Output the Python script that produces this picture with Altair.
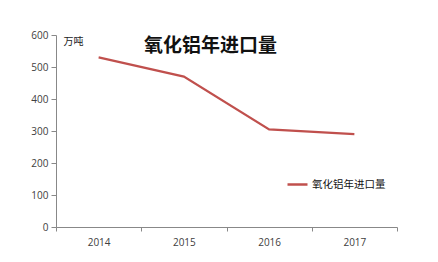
import altair as alt
import pandas as pd

years = ["2014", "2015", "2016", "2017"]
imports = [530, 470, 305, 290]
series_name = "氧化铝年进口量"

df = pd.DataFrame({"year": years, "value": imports, "series": [series_name] * len(years)})

chart = alt.Chart(df).mark_line(strokeWidth=2.2).encode(
    x=alt.X("year:N", sort=years,
            scale=alt.Scale(paddingInner=0, paddingOuter=0),
            axis=alt.Axis(title=None, labelAngle=0, tickBand="extent", tickSize=4,
                          labelPadding=6, domainColor="#888888", tickColor="#888888",
                          labelColor="#404040", labelFontSize=10, labelFont="Open Sans")),
    y=alt.Y("value:Q", scale=alt.Scale(domain=[0, 600], nice=False),
            axis=alt.Axis(values=[0, 100, 200, 300, 400, 500, 600], grid=False, tickSize=5,
                          labelPadding=3, domainColor="#888888", tickColor="#888888",
                          labelColor="#404040", labelFontSize=10, labelFont="Open Sans",
                          title="万吨", titleAngle=0, titleX=7, titleY=6, titleAlign="left",
                          titleBaseline="middle", titleFontWeight="normal", titleFontSize=10,
                          titleColor="#222222", titleFont="Noto Sans CJK SC")),
    color=alt.Color("series:N", scale=alt.Scale(range=["#C0504D"]),
                    legend=alt.Legend(title=None, orient="none", legendX=230, legendY=138,
                                      symbolType="stroke", symbolSize=400, symbolStrokeWidth=2.5,
                                      labelFontSize=10.5, labelColor="#111111",
                                      labelFont="Noto Sans CJK SC", labelOffset=3)),
).properties(
    width=341, height=192,
    title=alt.TitleParams(series_name, anchor="middle", frame="group", dx=-16, dy=39,
                          fontSize=19, fontWeight="bold", font="Noto Sans CJK SC",
                          color="#111111", baseline="middle"),
    autosize=alt.AutoSizeParams(type="none"),
    padding={"left": 56, "top": 35, "right": 41, "bottom": 35},
).configure(background="white").configure_view(stroke=None)

chart.save("out.html", embed_options={"renderer": "svg", "actions": False})
